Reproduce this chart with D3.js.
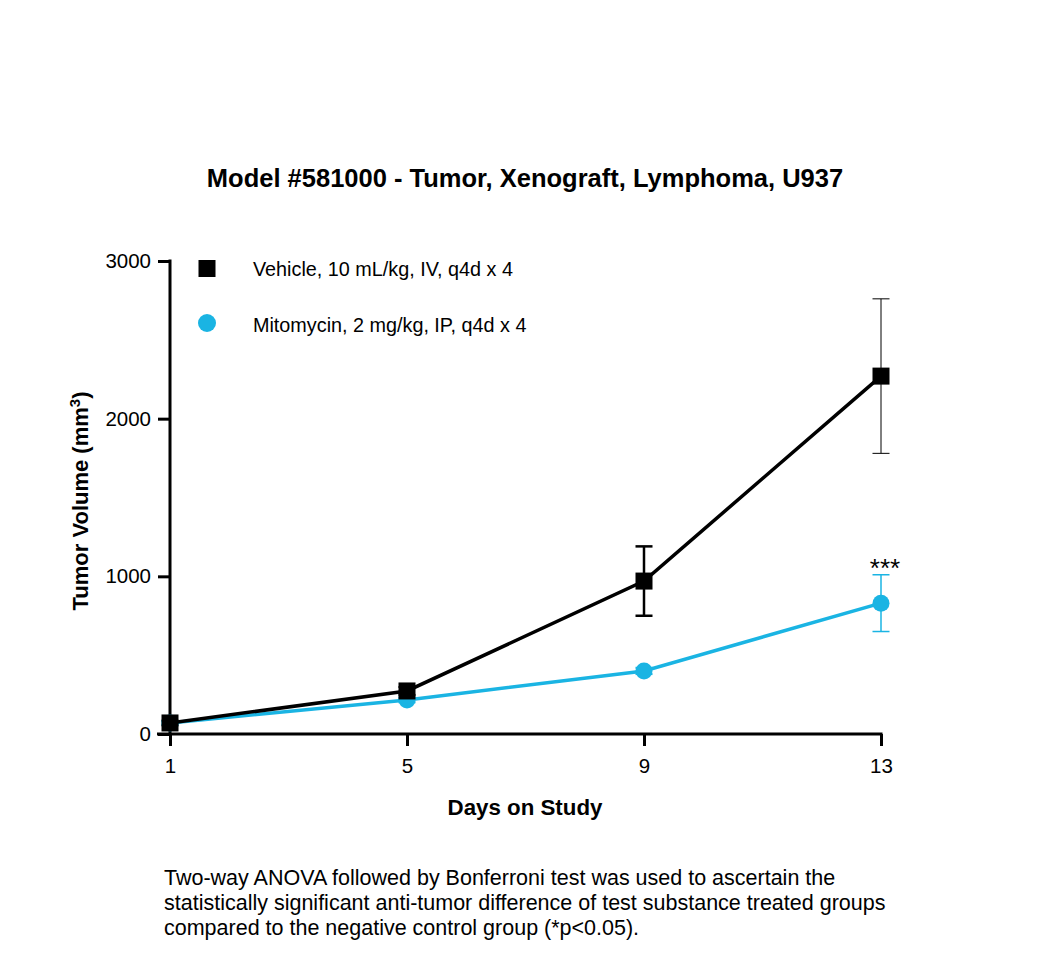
<!DOCTYPE html>
<html><head><meta charset="utf-8">
<script src="https://cdn.jsdelivr.net/npm/d3@7"></script>
<style>body{margin:0;background:#fff}svg{display:block}text{font-family:"Liberation Sans",Arial,sans-serif}</style>
</head><body>
<svg id="c" width="1050" height="969"></svg>
<script>
const days = [1, 5, 9, 13];
const vehicleMean = [70, 273, 970, 2270];
const vehicleErr = [15, 25, 220, 490];
const mitoMean = [70, 216, 400, 830];
const mitoErr = [10, 15, 20, 180];
const yTicks = [0, 1000, 2000, 3000];
const seriesNames = ["Vehicle, 10 mL/kg, IV, q4d x 4", "Mitomycin, 2 mg/kg, IP, q4d x 4"];
const colors = ["#000000", "#1AB4E3"];

const svg = d3.select("#c");
const x = d3.scaleLinear().domain([1, 13]).range([170, 881]);
const y = d3.scaleLinear().domain([0, 3000]).range([734, 261]);

// title
svg.append("text").attr("x", 525).attr("y", 187).attr("text-anchor", "middle")
  .attr("font-size", 25.5).attr("font-weight", "bold").text("Model #581000 - Tumor, Xenograft, Lymphoma, U937");

// axes
const yAxis = svg.append("g").attr("transform", "translate(170,0)")
  .call(d3.axisLeft(y).tickValues(yTicks).tickSize(12).tickPadding(7).tickFormat(d3.format("d")));
const xAxis = svg.append("g").attr("transform", "translate(0,734)")
  .call(d3.axisBottom(x).tickValues(days).tickSize(12).tickPadding(12).tickFormat(d3.format("d")));
[yAxis, xAxis].forEach(g => {
  g.select(".domain").remove();
  g.selectAll(".tick line").attr("stroke", "#000").attr("stroke-width", 3);
  g.selectAll(".tick text").attr("font-size", 20.5).attr("fill", "#000")
    .attr("font-family", "Liberation Sans, Arial, sans-serif");
});
svg.append("line").attr("x1", 170).attr("x2", 170).attr("y1", y(3000) - 1.5).attr("y2", 735.5)
  .attr("stroke", "#000").attr("stroke-width", 3);
svg.append("line").attr("x1", 157).attr("x2", x(13) + 1.5).attr("y1", 734).attr("y2", 734)
  .attr("stroke", "#000").attr("stroke-width", 3);

// axis labels
svg.append("text").attr("transform", "translate(88,501) rotate(-90)").attr("text-anchor", "middle")
  .attr("font-size", 22).attr("font-weight", "bold")
  .html('Tumor Volume (mm<tspan baseline-shift="super" font-size="15">3</tspan>)');
svg.append("text").attr("x", 525).attr("y", 815).attr("text-anchor", "middle")
  .attr("font-size", 22.3).attr("font-weight", "bold").text("Days on Study");

const line = d3.line().x(d => x(d[0])).y(d => y(d[1]));
const veh = days.map((d, i) => [d, vehicleMean[i], vehicleErr[i]]);
const mito = days.map((d, i) => [d, mitoMean[i], mitoErr[i]]);

function errorBars(data, color, widths) {
  const g = svg.append("g");
  data.forEach((d, i) => {
    const sw = widths[i];
    const cx = x(d[0]), t = y(d[1] + d[2]), b = y(d[1] - d[2]);
    g.append("line").attr("x1", cx).attr("x2", cx).attr("y1", t).attr("y2", b).attr("stroke", color).attr("stroke-width", sw);
    [t, b].forEach(v => g.append("line").attr("x1", cx - 8.5).attr("x2", cx + 8.5).attr("y1", v).attr("y2", v)
      .attr("stroke", color).attr("stroke-width", sw));
  });
}
errorBars(veh, "#000", [2, 2, 2.5, 1]);
errorBars(mito, colors[1], [2, 2, 2, 1.5]);

svg.append("path").datum(mito).attr("d", line).attr("fill", "none").attr("stroke", colors[1]).attr("stroke-width", 3.5);
svg.append("g").selectAll("circle").data(mito).join("circle")
  .attr("cx", d => x(d[0])).attr("cy", d => y(d[1])).attr("r", 8.5).attr("fill", colors[1]);
svg.append("path").datum(veh).attr("d", line).attr("fill", "none").attr("stroke", "#000").attr("stroke-width", 3.5);
svg.append("g").selectAll("rect").data(veh).join("rect")
  .attr("x", d => x(d[0]) - 8.5).attr("y", d => y(d[1]) - 8.5).attr("width", 17).attr("height", 17).attr("fill", "#000");

// significance
svg.append("text").attr("x", x(13) + 4).attr("y", 577).attr("text-anchor", "middle")
  .attr("font-size", 26).text("***");

// legend
svg.append("rect").attr("x", 198.5).attr("y", 260).attr("width", 17).attr("height", 17).attr("fill", "#000");
svg.append("circle").attr("cx", 207).attr("cy", 323).attr("r", 9).attr("fill", colors[1]);
svg.append("text").attr("x", 253).attr("y", 276).attr("font-size", 19.8).text(seriesNames[0]);
svg.append("text").attr("x", 253).attr("y", 332).attr("font-size", 19.8).text(seriesNames[1]);

// footnote
const notes = ["Two-way ANOVA followed by Bonferroni test was used to ascertain the",
  "statistically significant anti-tumor difference of test substance treated groups",
  "compared to the negative control group (*p<0.05)."];
svg.append("g").selectAll("text").data(notes).join("text")
  .attr("x", 164).attr("y", (d, i) => 885 + i * 25).attr("font-size", 21.5).text(d => d);
</script>
</body></html>
